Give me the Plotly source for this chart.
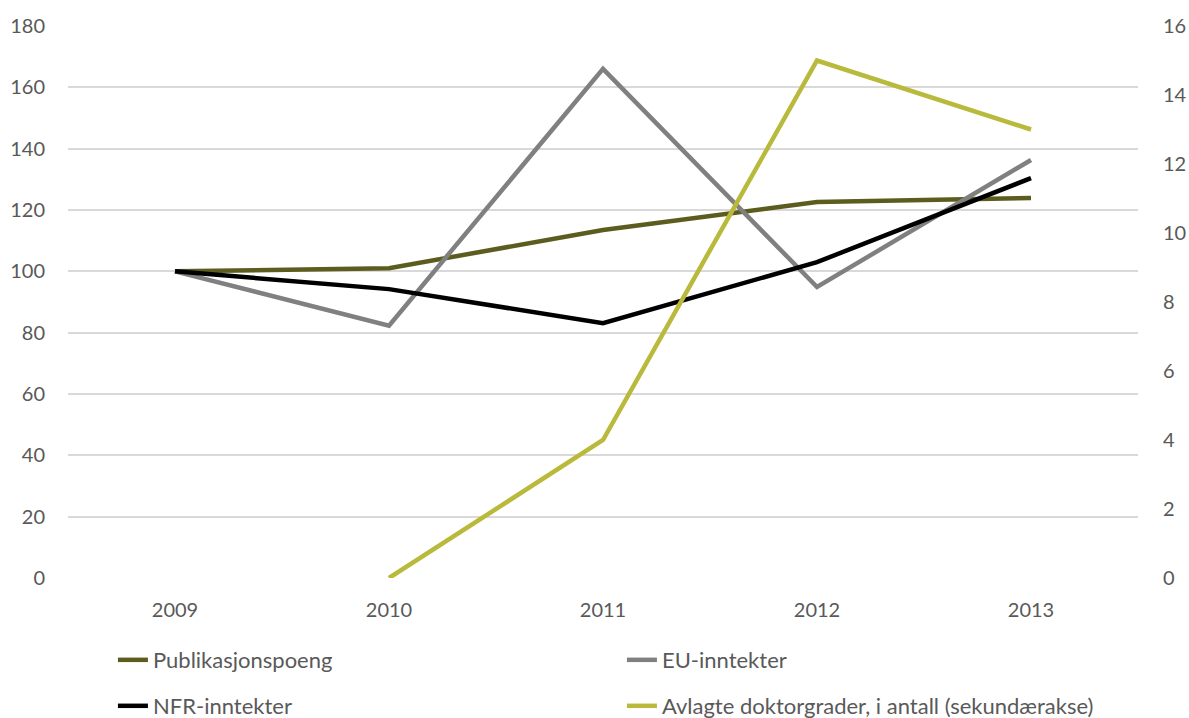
import plotly.graph_objects as go

years = ["2009", "2010", "2011", "2012", "2013"]
publikasjonspoeng = [100, 101, 113.5, 122.6, 123.9]
eu_inntekter = [100, 82.3, 166, 94.9, 136.3]
nfr_inntekter = [100, 94.2, 83.1, 103, 130.4]
doktorgrader = [None, 0, 4, 15, 13]

names = ["Publikasjonspoeng", "EU-inntekter", "NFR-inntekter",
         "Avlagte doktorgrader, i antall (sekundærakse)"]
colors = ["#5c5c1f", "#808080", "#000000", "#b9b93c"]

FONT = "Lato"
TXT = "#595959"
TICK = 20
LEG = 22

fig = go.Figure()
series = [publikasjonspoeng, eu_inntekter, nfr_inntekter, doktorgrader]
legends = ["legend", "legend", "legend2", "legend2"]
axes = ["y", "y", "y", "y2"]
for name, vals, col, lg, ax in zip(names, series, colors, legends, axes):
    fig.add_trace(go.Scatter(
        x=years, y=vals, name=name, mode="lines",
        line=dict(color=col, width=4.5),
        yaxis=ax, legend=lg, connectgaps=False,
    ))

legend_common = dict(
    orientation="h", xanchor="left", yanchor="middle",
    entrywidth=464, entrywidthmode="pixels",
    font=dict(family=FONT, size=LEG, color=TXT),
    bgcolor="rgba(0,0,0,0)", itemclick=False,
)

fig.update_layout(
    width=1189, height=718,
    margin=dict(l=68, r=51, t=26, b=140, autoexpand=False),
    paper_bgcolor="white", plot_bgcolor="white",
    font=dict(family=FONT, size=TICK, color=TXT),
    showlegend=True,
    legend=dict(x=0.042, y=-0.1486, **legend_common),
    legend2=dict(x=0.042, y=-0.2319, **legend_common),
    xaxis=dict(
        type="category", range=[-0.5, 4.5],
        showgrid=False, showline=False, zeroline=False,
        ticks="", ticklabelstandoff=18,
        tickfont=dict(family=FONT, size=TICK, color=TXT),
    ),
    yaxis=dict(
        range=[0, 180], dtick=20, tick0=0,
        showgrid=True, gridcolor="#d9d9d9", gridwidth=1.5,
        zeroline=False, showline=False, ticks="",
        ticklabelstandoff=22,
        tickfont=dict(family=FONT, size=TICK, color=TXT),
    ),
    yaxis2=dict(
        range=[0, 16], dtick=2, tick0=0, overlaying="y", side="right",
        showgrid=False, zeroline=False, showline=False, ticks="",
        ticklabelstandoff=24,
        tickfont=dict(family=FONT, size=TICK, color=TXT),
    ),
)

fig.write_html(
    "out.html",
    config={"displayModeBar": False},
    post_script="document.body.style.margin='0';document.body.style.overflow='hidden';",
)
